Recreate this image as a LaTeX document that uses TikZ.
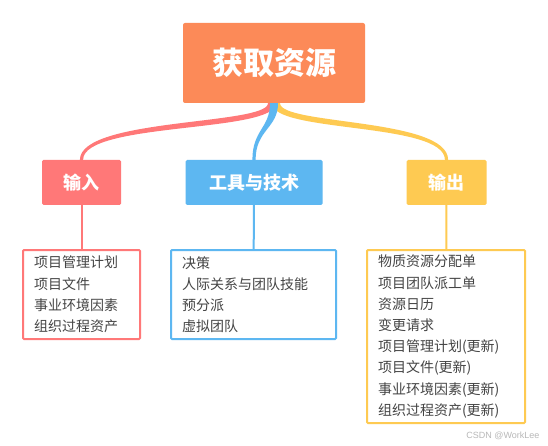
\documentclass[tikz,border=0pt]{standalone}
\usepackage{fontspec}
\newfontfamily\cjk{Noto Sans CJK SC}
\newfontfamily\wmfont{Liberation Sans}
\definecolor{titleorange}{HTML}{FC8A58}
\definecolor{inred}{HTML}{FF7878}
\definecolor{toolblue}{HTML}{5DB7F1}
\definecolor{outyellow}{HTML}{FECA52}
\definecolor{itemgray}{HTML}{444444}
\tikzstyle{titlebox}=[rectangle,rounded corners=2pt,fill=titleorange,text=white,minimum width=182,minimum height=80,font=\cjk\bfseries\fontsize{31}{36}\selectfont]
\tikzstyle{catbox}=[rectangle,rounded corners=1.5pt,text=white,minimum height=45,font=\cjk\bfseries\fontsize{18}{22}\selectfont]
\tikzstyle{listbox}=[rectangle,draw,line width=2pt,rounded corners=1pt,align=left,inner xsep=11pt,text=itemgray,font=\cjk\fontsize{14}{21.2}\selectfont]
\tikzstyle{stem}=[line width=2pt]

\begin{document}
\begin{tikzpicture}[x=1pt,y=-1pt]
    \useasboundingbox[fill=white] (0,0) rectangle (548,446);

    \node[titlebox] (title) at (274,63) {获取资源};

    \foreach \x/\w/\name/\col/\txt in {81.5/79/input/inred/输入, 254/137/tools/toolblue/工具与技术, 446.5/80/output/outyellow/输出}
        \node[catbox, fill=\col, minimum width=\w] (\name) at (\x,182.5) {\txt};

    % tapered branches from the title
    \foreach \dest/\col/\o/\la/\lb/\ra/\rb in {input/inred/-2/22/42/30/38, output/outyellow/2/30/38/22/42, tools/toolblue/0/25/30/25/30}
        \fill[\col] ([xshift=\o-4]title.south) .. controls +(0,\la) and +(0,-\lb) .. ([xshift=-1.6]\dest.north)
            -- ([xshift=1.6]\dest.north) .. controls +(0,-\rb) and +(0,\ra) .. ([xshift=\o+4]title.south) -- cycle;

    \node[listbox, draw=inred, minimum width=117, text width=95, minimum height=89] (inlist) at (81.5,294.5)
        {项目管理计划\\项目文件\\事业环境因素\\组织过程资产};
    \node[listbox, draw=toolblue, minimum width=165, text width=143, minimum height=89] (toollist) at (253.5,294.5)
        {决策\\人际关系与团队技能\\预分派\\虚拟团队};
    \node[listbox, draw=outyellow, minimum width=158, text width=136, minimum height=173] (outlist) at (446,336.5)
        {物质资源分配单\\项目团队派工单\\资源日历\\变更请求\\项目管理计划(更新)\\项目文件(更新)\\事业环境因素(更新)\\组织过程资产(更新)};

    \draw[stem, inred] (input) -- (inlist);
    \draw[stem, toolblue] (tools) -- (toollist);
    \draw[stem, outyellow] (output) -- (outlist);

    \node[anchor=east, text=black!28, font=\wmfont\fontsize{9}{10}\selectfont] (mark) at (543,436) {CSDN @WorkLee};
\end{tikzpicture}
\end{document}
